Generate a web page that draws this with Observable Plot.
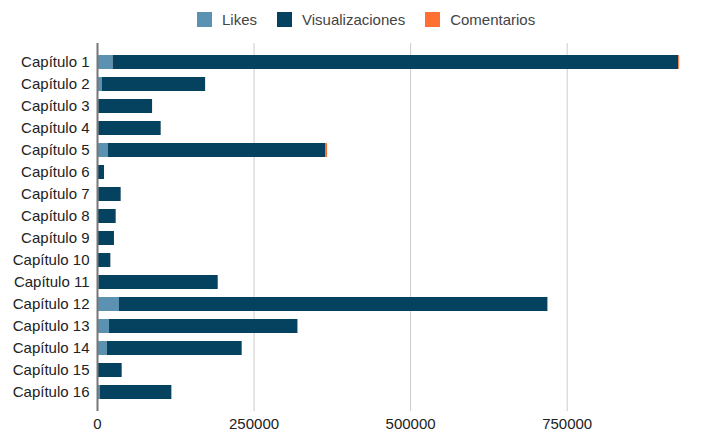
<!DOCTYPE html>
<html>
<head>
<meta charset="utf-8">
<script src="https://cdn.jsdelivr.net/npm/d3@7"></script>
<script src="https://cdn.jsdelivr.net/npm/@observablehq/plot@0.6"></script>
<style>
  html, body { margin: 0; padding: 0; background: #fff; }
  body { width: 713px; height: 435px; overflow: hidden; font-family: "Liberation Sans", Arial, sans-serif; }
  #legend { height: 38px; display: flex; align-items: center; padding-left: 197px; box-sizing: border-box; font-size: 15px; color: #444; }
  .item { display: flex; align-items: center; margin-right: 20px; }
  .sw { width: 15px; height: 15px; margin-right: 10px; }
</style>
</head>
<body>
<div id="legend"></div>
<div id="chart"></div>
<script>
const chapters = ["Capítulo 1","Capítulo 2","Capítulo 3","Capítulo 4","Capítulo 5","Capítulo 6","Capítulo 7","Capítulo 8","Capítulo 9","Capítulo 10","Capítulo 11","Capítulo 12","Capítulo 13","Capítulo 14","Capítulo 15","Capítulo 16"];
const likes    = [25000, 7500, 2000, 2000, 17000, 300, 2000, 500, 500, 400, 2500, 35100, 19200, 15500, 500, 4800];
const views    = [903200, 165000, 85900, 99700, 347900, 10900, 35800, 29300, 26600, 20900, 190300, 683900, 300800, 215600, 38900, 113500];
const comments = [1500, 300, 100, 100, 2500, 50, 100, 50, 50, 50, 200, 1000, 600, 400, 50, 1000];
const seriesNames = ["Likes", "Visualizaciones", "Comentarios"];
const seriesColors = ["#5b91b1", "#04425f", "#ff7133"];
const xTicks = [0, 250000, 500000, 750000];

const legend = document.getElementById("legend");
seriesNames.forEach((n, i) => {
  const it = document.createElement("div");
  it.className = "item";
  const sw = document.createElement("div");
  sw.className = "sw";
  sw.style.background = seriesColors[i];
  const t = document.createElement("span");
  t.textContent = n;
  it.appendChild(sw); it.appendChild(t);
  legend.appendChild(it);
});

const data = [];
chapters.forEach((c, i) => {
  data.push({chapter: c, series: "Likes", value: likes[i]});
  data.push({chapter: c, series: "Visualizaciones", value: views[i]});
  data.push({chapter: c, series: "Comentarios", value: comments[i]});
});

const chart = Plot.plot({
  width: 713,
  height: 397,
  marginLeft: 97,
  marginRight: 33,
  marginTop: 5,
  marginBottom: 24,
  style: { fontSize: "15px", fontFamily: "'Liberation Sans', Arial, sans-serif", color: "#222", background: "#fff" },
  x: { domain: [0, 931000], label: null },
  y: { domain: chapters, padding: 0.35, label: null },
  color: { domain: seriesNames, range: seriesColors },
  marks: [
    Plot.gridX(xTicks.filter(d => d > 0), { stroke: "#cccccc", strokeOpacity: 1 }),
    Plot.barX(data, { x: "value", y: "chapter", fill: "series" }),
    Plot.ruleX([0], { stroke: "#777", strokeWidth: 2 }),
    Plot.axisY({ tickSize: 0, tickPadding: 8, label: null, fontSize: 15 }),
    Plot.axisX({ ticks: xTicks, tickSize: 0, tickPadding: 7, tickFormat: d3.format("d"), label: null, fontSize: 15 })
  ]
});
document.getElementById("chart").appendChild(chart);
</script>
</body>
</html>
